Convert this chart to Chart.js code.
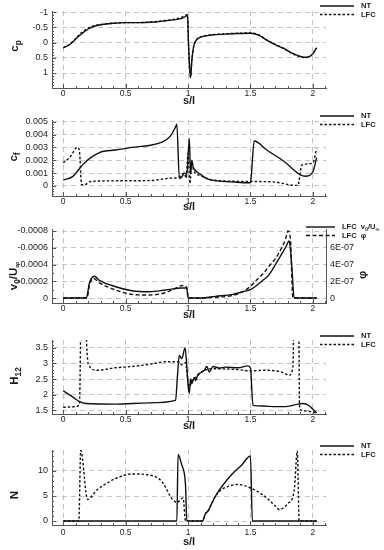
<!DOCTYPE html>
<html>
<head>
<meta charset="utf-8">
<script src="https://cdn.jsdelivr.net/npm/chart.js@4.4.1/dist/chart.umd.min.js"></script>
<style>
    html, body { margin: 0; padding: 0; background: #ffffff; }
    #wrap { position: relative; width: 384px; height: 550px; overflow: hidden; }
    #wrap canvas { position: absolute; left: 0; }
</style>
</head>
<body>
<div id="wrap">
    <canvas id="cpChart"></canvas>
    <canvas id="cfChart"></canvas>
    <canvas id="v0Chart"></canvas>
    <canvas id="h12Chart"></canvas>
    <canvas id="nChart"></canvas>
</div>
<script>
// ===== SHARED X AXIS (s/l) =====
var sTicks = [0, 0.5, 1, 1.5, 2];
var sTickLabels = ['0', '0.5', '1', '1.5', '2'];

// ===== PANEL 1: PRESSURE COEFFICIENT =====
var cpS   = [0, 0.05, 0.1, 0.15, 0.2, 0.25, 0.3, 0.4, 0.5, 0.6, 0.7, 0.8, 0.9, 0.95, 0.98, 0.995, 1.005, 1.02, 1.03, 1.04, 1.05, 1.07, 1.1, 1.19, 1.3, 1.4, 1.5, 1.57, 1.63, 1.7, 1.77, 1.83, 1.9, 1.94, 1.97, 2.0, 2.03];
var cpNT  = [0.17, 0.07, -0.12, -0.3, -0.45, -0.54, -0.59, -0.64, -0.66, -0.66, -0.67, -0.71, -0.76, -0.8, -0.86, -0.92, 0.2, 1.16, 0.6, 0.25, 0.05, -0.1, -0.18, -0.25, -0.28, -0.3, -0.31, -0.24, -0.08, 0.07, 0.2, 0.34, 0.45, 0.48, 0.46, 0.36, 0.17];
var cpLFC = [0.17, 0.06, -0.14, -0.34, -0.48, -0.56, -0.6, -0.64, -0.66, -0.66, -0.68, -0.72, -0.78, -0.84, -0.9, -0.93, 0.2, 1.14, 0.58, 0.24, 0.04, -0.11, -0.19, -0.26, -0.29, -0.31, -0.32, -0.25, -0.09, 0.06, 0.2, 0.35, 0.47, 0.49, 0.47, 0.36, 0.17];
var cpTicks = [-1, -0.5, 0, 0.5, 1];
var cpTickLabels = ['-1', '-0.5', '0', '0.5', '1'];

// ===== PANEL 2: SKIN FRICTION =====
var cfNtS  = [0, 0.075, 0.155, 0.22, 0.29, 0.42, 0.55, 0.69, 0.79, 0.86, 0.9, 0.91, 0.93, 0.95, 0.97, 0.99, 1.01, 1.02, 1.03, 1.04, 1.05, 1.1, 1.155, 1.23, 1.37, 1.49, 1.5, 1.53, 1.63, 1.77, 1.9, 1.94, 2.0, 2.03];
var cfNT   = [0.00047, 0.00073, 0.00164, 0.0022, 0.0026, 0.0028, 0.003, 0.00315, 0.0034, 0.0039, 0.0046, 0.0048, 0.0006, 0.0007, 0.001, 0.0009, 0.0037, 0.0009, 0.002, 0.0015, 0.0013, 0.0009, 0.00055, 0.0004, 0.0003, 0.00025, 0.0003, 0.0035, 0.0028, 0.0019, 0.00086, 0.00076, 0.0011, 0.0022];
var cfLfcS = [0, 0.05, 0.115, 0.13, 0.147, 0.17, 0.22, 0.42, 0.69, 0.85, 0.93, 0.95, 0.97, 0.985, 1.0, 1.015, 1.03, 1.045, 1.1, 1.15, 1.2, 1.5, 1.7, 1.85, 1.88, 1.91, 1.94, 2.0, 2.03];
var cfLFC  = [0.0018, 0.0022, 0.003, 0.0027, 0.0001, 0.0001, 0.00035, 0.0004, 0.00042, 0.0006, 0.0007, 0.0009, 0.001, 0.0006, 0.0025, 0.0002, 0.0019, 0.0012, 0.0008, 0.0006, 0.00045, 0.00035, 0.0003, 0.00005, 0.00005, 0.0016, 0.0017, 0.0018, 0.0029];
var cfTicks = [0, 0.001, 0.002, 0.003, 0.004, 0.005];
var cfTickLabels = ['0', '0.001', '0.002', '0.003', '0.004', '0.005'];

// ===== PANEL 3: SUCTION VELOCITY / PHI =====
var v0S   = [0, 0.185, 0.21, 0.25, 0.29, 0.42, 0.55, 0.69, 0.82, 0.95, 0.99, 1.0, 1.11, 1.22, 1.35, 1.45, 1.5, 1.59, 1.65, 1.7, 1.74, 1.78, 1.81, 1.83, 1.85, 2.03];
var v0LFC = [0, 0, -0.00018, -0.00026, -0.00021, -0.000135, -0.000087, -0.000075, -0.000095, -0.00012, -0.00012, 0, 0, -0.00002, -0.00004, -0.00008, -0.0001, -0.0002, -0.00028, -0.0004, -0.0005, -0.0006, -0.00068, -0.0004, 0, 0];
var phiS   = [0, 0.19, 0.21, 0.24, 0.29, 0.42, 0.55, 0.69, 0.82, 0.94, 0.96, 0.99, 1.0, 1.1, 1.22, 1.35, 1.43, 1.5, 1.54, 1.6, 1.66, 1.7, 1.75, 1.78, 1.8, 1.82, 1.84, 2.03];
var phiLFC = [0, 0, 1.5e-7, 2.35e-7, 1.8e-7, 0.96e-7, 0.43e-7, 0.36e-7, 0.64e-7, 1.44e-7, 1.5e-7, 1.2e-7, 0, 0, 0.1e-7, 0.28e-7, 0.7e-7, 1.4e-7, 2.0e-7, 2.9e-7, 4.0e-7, 4.7e-7, 6.0e-7, 7.0e-7, 8.0e-7, 7.0e-7, 0, 0];
var v0Ticks = [-0.0008, -0.0006, -0.0004, -0.0002, 0];
var v0TickLabels = ['-0.0008', '-0.0006', '-0.0004', '-0.0002', '0'];
var phiTicks = [0, 2e-7, 4e-7, 6e-7];
var phiTickLabels = ['0', '2E-07', '4E-07', '6E-07'];

// ===== PANEL 4: SHAPE FACTOR =====
var hNtS  = [0, 0.075, 0.13, 0.18, 0.42, 0.69, 0.9, 0.915, 0.93, 0.95, 0.976, 0.99, 1.0, 1.01, 1.02, 1.03, 1.05, 1.06, 1.08, 1.1, 1.13, 1.15, 1.17, 1.2, 1.25, 1.3, 1.4, 1.48, 1.5, 1.52, 1.6, 1.7, 1.8, 1.88, 1.92, 1.97, 2.01, 2.03];
var hNT   = [2.12, 1.93, 1.78, 1.72, 1.7, 1.74, 1.82, 2.6, 3.25, 3.15, 3.5, 2.9, 2.3, 2.05, 2.5, 2.35, 2.55, 2.45, 2.65, 2.7, 2.78, 2.9, 2.72, 2.9, 2.85, 2.88, 2.86, 2.92, 2.85, 1.66, 1.64, 1.62, 1.63, 1.7, 1.72, 1.65, 1.5, 1.42];
var hLfcS = [0, 0.1, 0.13, 0.145, 0.165, 0.2, 0.27, 0.42, 0.55, 0.69, 0.82, 0.92, 0.95, 0.98, 1.0, 1.01, 1.03, 1.06, 1.1, 1.15, 1.2, 1.3, 1.4, 1.5, 1.62, 1.75, 1.81, 1.84, 1.85, 1.885, 1.893, 1.91, 1.98, 2.03];
var hLFC  = [1.6, 1.62, 1.72, 5, 5, 2.98, 2.78, 2.86, 2.9, 2.97, 3.05, 3.05, 2.95, 3.02, 2.4, 2.25, 2.45, 2.55, 2.7, 2.8, 2.83, 2.82, 2.8, 2.76, 2.78, 2.72, 2.62, 2.9, 5, 5, 1.65, 1.5, 1.46, 1.42];
var hTicks = [1.5, 2, 2.5, 3, 3.5];
var hTickLabels = ['1.5', '2', '2.5', '3', '3.5'];

// ===== PANEL 5: N FACTOR =====
var nNtS  = [0, 0.91, 0.92, 0.95, 0.97, 0.98, 0.99, 1.115, 1.14, 1.16, 1.18, 1.22, 1.28, 1.35, 1.43, 1.5, 1.515, 2.03];
var nNT   = [0, 0, 13.3, 11.2, 9.5, 7, 0, 0, 1.5, 2.0, 3.0, 5.0, 7.2, 9.3, 11.2, 13.0, 0, 0];
var nLfcS = [0, 0.125, 0.14, 0.195, 0.27, 0.42, 0.55, 0.69, 0.79, 0.87, 0.91, 0.96, 0.98, 1.115, 1.14, 1.16, 1.18, 1.22, 1.27, 1.33, 1.4, 1.5, 1.6, 1.7, 1.73, 1.8, 1.85, 1.875, 1.89, 2.03];
var nLFC  = [0, 0, 14.1, 4.3, 6.2, 8.5, 9.4, 9.2, 7.9, 4.5, 3.7, 4.6, 0, 0, 1.5, 2.0, 3.0, 5.0, 6.3, 7.0, 7.3, 6.6, 5.2, 3.0, 2.3, 3.5, 6.0, 14, 0, 0];
var nTicks = [0, 5, 10];
var nTickLabels = ['0', '5', '10'];

// ===== STYLE =====
var FONT = '"Liberation Sans", Arial, sans-serif';
var lineColor = '#111111';
var gridColor = '#c4c4c4';
var axisColor = '#555555';
var dotDash = [2.5, 2];

Chart.defaults.font.family = FONT;
Chart.defaults.color = '#222';

function toPoints(sArr, vArr) {
    var pts = [];
    for (var i = 0; i < sArr.length; i++) {
        pts.push({ x: sArr[i], y: vArr[i] });
    }
    return pts;
}

function lineSet(label, points, dash, axisId) {
    return {
        label: label,
        data: points,
        yAxisID: axisId || 'y',
        borderColor: lineColor,
        borderWidth: 1.4,
        borderDash: dash,
        pointRadius: 0,
        fill: false,
        cubicInterpolationMode: 'monotone'
    };
}

// text with subscripts, optionally rotated
function drawRich(ctx, parts, x, y, angle, align, size) {
    ctx.save();
    ctx.translate(x, y);
    ctx.rotate(angle);
    var total = 0;
    for (var i = 0; i < parts.length; i++) {
        var fs = parts[i].sub ? size * 0.72 : size;
        ctx.font = 'bold ' + fs + 'px ' + FONT;
        total += ctx.measureText(parts[i].t).width;
    }
    var cx = (align === 'center') ? -total / 2 : 0;
    ctx.textAlign = 'left';
    ctx.textBaseline = 'middle';
    ctx.fillStyle = '#1a1a1a';
    for (var j = 0; j < parts.length; j++) {
        var fs2 = parts[j].sub ? size * 0.72 : size;
        ctx.font = 'bold ' + fs2 + 'px ' + FONT;
        ctx.fillText(parts[j].t, cx, parts[j].sub ? size * 0.32 : 0);
        cx += ctx.measureText(parts[j].t).width;
    }
    ctx.restore();
}

// ===== TITLES, LEGEND, MINOR TICKS =====
var decorPlugin = {
    id: 'decor',
    afterDraw: function(chart, args, opts) {
        var ctx = chart.ctx;
        var area = chart.chartArea;
        var xs = chart.scales.x;
        var ys = chart.scales.y;
        ctx.save();

        // minor tick marks on x axis
        ctx.strokeStyle = axisColor;
        ctx.lineWidth = 1;
        ctx.beginPath();
        for (var k = 0; k <= 21; k++) {
            var sx = Math.round(xs.getPixelForValue(k / 10)) + 0.5;
            var len = (k % 5 === 0) ? 4 : 2;
            ctx.moveTo(sx, area.bottom);
            ctx.lineTo(sx, area.bottom - len);
        }
        // minor tick marks on y axis
        var lo = Math.min(ys.min, ys.max), hi = Math.max(ys.min, ys.max);
        var first = Math.ceil(lo / opts.yMinor - 1e-9);
        for (var m = first; m * opts.yMinor <= hi + 1e-12; m++) {
            var v = m * opts.yMinor;
            var py = Math.round(ys.getPixelForValue(v)) + 0.5;
            var major = Math.abs(v / opts.yMajor - Math.round(v / opts.yMajor)) < 1e-6;
            ctx.moveTo(area.left, py);
            ctx.lineTo(area.left + (major ? 4 : 2), py);
        }
        ctx.stroke();

        // x title
        ctx.fillStyle = '#1a1a1a';
        ctx.font = 'bold 11px ' + FONT;
        ctx.textAlign = 'center';
        ctx.textBaseline = 'middle';
        ctx.fillText('s/l', (area.left + area.right) / 2, opts.xTitleY);

        // y titles
        drawRich(ctx, opts.yTitle, opts.yTitleX, opts.yTitleY, -Math.PI / 2, 'center', 11.5);
        if (opts.y2Title) {
            drawRich(ctx, opts.y2Title, opts.y2TitleX, opts.y2TitleY, -Math.PI / 2, 'center', 11.5);
        }

        // legend
        for (var i = 0; i < opts.legend.length; i++) {
            var item = opts.legend[i];
            var ly = opts.legendY + i * 8.5;
            ctx.strokeStyle = lineColor;
            ctx.lineWidth = 1.4;
            ctx.setLineDash(item.dash);
            ctx.beginPath();
            ctx.moveTo(opts.legendX1, ly);
            ctx.lineTo(opts.legendX2, ly);
            ctx.stroke();
            ctx.setLineDash([]);
            drawRich(ctx, item.label, opts.legendTextX, ly, 0, 'left', 7.5);
        }
        ctx.restore();
    }
};

function makePanel(id, p) {
    var canvas = document.getElementById(id);
    canvas.width = 384;
    canvas.height = p.height;
    canvas.style.top = p.top + 'px';
    canvas.style.width = '384px';
    canvas.style.height = p.height + 'px';

    var scales = {
        x: {
            type: 'linear',
            min: -0.09,
            max: 2.105,
            afterFit: function(scale) { scale.height = p.xAxisH; },
            afterBuildTicks: function(scale) {
                scale.ticks = sTicks.map(function(v) { return { value: v }; });
            },
            ticks: {
                autoSkip: false,
                maxRotation: 0,
                padding: p.xTickPad || 1,
                font: { size: 8.5 },
                color: '#222',
                callback: function(value, index) { return sTickLabels[index]; }
            },
            grid: { color: gridColor, drawTicks: false },
            border: { color: axisColor, width: 1, dash: [5, 4] }
        },
        y: {
            type: 'linear',
            position: 'left',
            min: p.yMin,
            max: p.yMax,
            reverse: !!p.reverse,
            afterFit: function(scale) { scale.width = 52; },
            afterBuildTicks: function(scale) {
                scale.ticks = p.yTicks.map(function(v) { return { value: v }; });
            },
            ticks: {
                autoSkip: false,
                padding: 4,
                font: { size: 9 },
                color: '#222',
                callback: function(value, index) { return p.yTickLabels[index]; }
            },
            grid: { color: gridColor, drawTicks: false },
            border: { color: axisColor, width: 1, dash: [5, 4] }
        }
    };

    if (p.y2) {
        scales.y2 = {
            type: 'linear',
            position: 'right',
            min: p.y2.min,
            max: p.y2.max,
            afterFit: function(scale) { scale.width = 58; },
            afterBuildTicks: function(scale) {
                scale.ticks = p.y2.ticks.map(function(v) { return { value: v }; });
            },
            ticks: {
                autoSkip: false,
                padding: 4,
                font: { size: 9 },
                color: '#222',
                callback: function(value, index) { return p.y2.labels[index]; }
            },
            grid: { drawOnChartArea: false, drawTicks: false },
            border: { color: axisColor, width: 1 }
        };
    }

    return new Chart(canvas.getContext('2d'), {
        type: 'line',
        data: { datasets: p.datasets },
        options: {
            responsive: false,
            animation: false,
            devicePixelRatio: 1,
            layout: { padding: { top: p.padTop, right: p.y2 ? 0 : 58, bottom: 0, left: 0 } },
            plugins: {
                legend: { display: false },
                tooltip: { enabled: false },
                decor: p.decor
            },
            scales: scales
        },
        plugins: [decorPlugin]
    });
}

var ntLegend = [
    { dash: [], label: [{ t: 'NT' }] },
    { dash: dotDash, label: [{ t: 'LFC' }] }
];

// ===== BUILD PANELS =====
makePanel('cpChart', {
    top: 0, height: 105, padTop: 11, xAxisH: 17,
    yMin: -1.043, yMax: 1.494, reverse: true,
    yTicks: cpTicks, yTickLabels: cpTickLabels,
    datasets: [
        lineSet('NT', toPoints(cpS, cpNT), []),
        lineSet('LFC', toPoints(cpS, cpLFC), dotDash)
    ],
    decor: {
        yMinor: 0.1, yMajor: 0.5,
        xTitleY: 100.5, yTitle: [{ t: 'c' }, { t: 'p', sub: true }], yTitleX: 15, yTitleY: 46,
        legend: ntLegend, legendY: 6, legendX1: 320, legendX2: 354, legendTextX: 361
    }
});

makePanel('cfChart', {
    top: 105, height: 110, padTop: 15, xAxisH: 19,
    yMin: -0.00078, yMax: 0.00513,
    yTicks: cfTicks, yTickLabels: cfTickLabels,
    datasets: [
        lineSet('NT', toPoints(cfNtS, cfNT), []),
        lineSet('LFC', toPoints(cfLfcS, cfLFC), dotDash)
    ],
    decor: {
        yMinor: 0.0002, yMajor: 0.001,
        xTitleY: 102, yTitle: [{ t: 'c' }, { t: 'f', sub: true }], yTitleX: 14, yTitleY: 52,
        legend: ntLegend, legendY: 11, legendX1: 320, legendX2: 354, legendTextX: 361
    }
});

makePanel('v0Chart', {
    top: 215, height: 110, padTop: 14, xAxisH: 22,
    yMin: -0.000824, yMax: 0.0000595, reverse: true,
    yTicks: v0Ticks, yTickLabels: v0TickLabels,
    y2: { min: -0.595e-7, max: 8.24e-7, ticks: phiTicks, labels: phiTickLabels },
    datasets: [
        lineSet('LFC v0/U', toPoints(v0S, v0LFC), []),
        lineSet('LFC phi', toPoints(phiS, phiLFC), [4, 2.5], 'y2')
    ],
    decor: {
        yMinor: 0.0001, yMajor: 0.0002,
        xTitleY: 100, yTitle: [{ t: 'v' }, { t: '0', sub: true }, { t: '/U' }, { t: '\u221e', sub: true }], yTitleX: 14, yTitleY: 61,
        y2Title: [{ t: '\u03c6' }], y2TitleX: 363, y2TitleY: 60,
        legend: [
            { dash: [], label: [{ t: 'LFC  v' }, { t: '0', sub: true }, { t: '/U' }, { t: '\u221e', sub: true }] },
            { dash: [4, 2.5], label: [{ t: 'LFC  \u03c6' }] }
        ],
        legendY: 12, legendX1: 306, legendX2: 335, legendTextX: 342
    }
});

makePanel('h12Chart', {
    top: 325, height: 110, padTop: 15, xAxisH: 21,
    yMin: 1.386, yMax: 3.744,
    yTicks: hTicks, yTickLabels: hTickLabels,
    datasets: [
        lineSet('NT', toPoints(hNtS, hNT), []),
        lineSet('LFC', toPoints(hLfcS, hLFC), dotDash)
    ],
    decor: {
        yMinor: 0.1, yMajor: 0.5,
        xTitleY: 101, yTitle: [{ t: 'H' }, { t: '12', sub: true }], yTitleX: 15, yTitleY: 51,
        legend: ntLegend, legendY: 11, legendX1: 320, legendX2: 354, legendTextX: 361
    }
});

makePanel('nChart', {
    top: 435, height: 115, padTop: 15, xAxisH: 25, xTickPad: 3,
    yMin: -0.8, yMax: 14.2,
    yTicks: nTicks, yTickLabels: nTickLabels,
    datasets: [
        lineSet('NT', toPoints(nNtS, nNT), []),
        lineSet('LFC', toPoints(nLfcS, nLFC), dotDash)
    ],
    decor: {
        yMinor: 1, yMajor: 5,
        xTitleY: 107, yTitle: [{ t: 'N' }], yTitleX: 15, yTitleY: 60,
        legend: ntLegend, legendY: 11, legendX1: 320, legendX2: 354, legendTextX: 361
    }
});
</script>
</body>
</html>
